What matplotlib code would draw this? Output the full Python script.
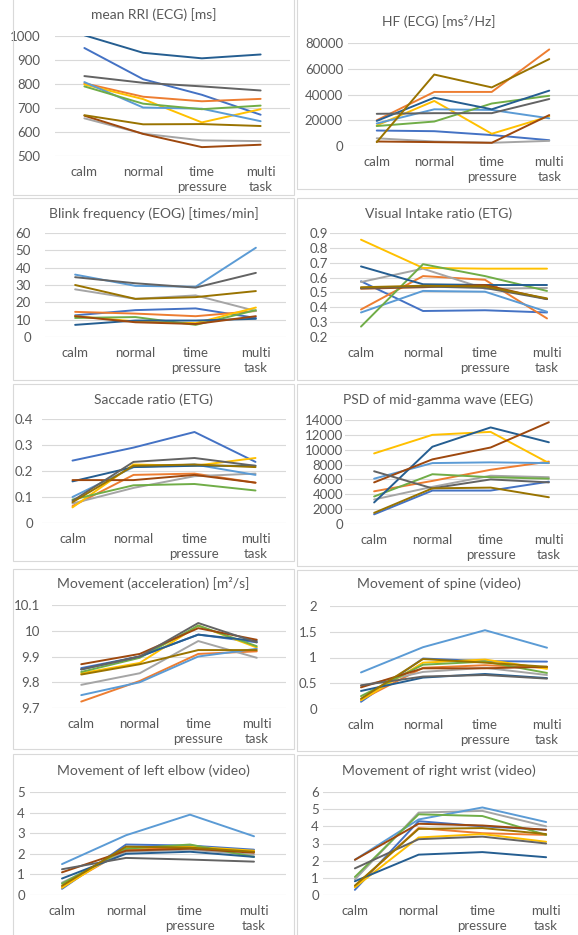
import numpy as np
import matplotlib
matplotlib.use("Agg")
import matplotlib.pyplot as plt
from matplotlib.patches import Rectangle
from matplotlib.ticker import FuncFormatter

plt.rcParams['font.family'] = ['Lato', 'DejaVu Sans']

categories = ["calm", "normal", "time\npressure", "multi\ntask"]

# series colours (Excel palette), same order as the rows of every data block
colors = ["#4472C4", "#ED7D31", "#A5A5A5", "#FFC000", "#5B9BD5",
          "#70AD47", "#255E91", "#9E480E", "#636363", "#997300"]

rri = [[950, 820, 755, 672], [803, 747, 728, 738], [657, 593, 565, 562],
       [798, 737, 640, 695], [808, 702, 697, 645], [790, 718, 695, 710],
       [1003, 930, 907, 923], [668, 592, 537, 547], [833, 805, 790, 773],
       [670, 632, 633, 625]]

hf = [[12000, 11500, 8500, 4500], [20000, 42000, 42000, 75000],
      [6000, 3500, 2500, 4000], [16000, 35000, 9500, 23000],
      [17500, 28500, 28000, 21500], [15500, 19000, 33000, 39000],
      [19500, 37500, 28500, 43000], [3500, 3000, 2500, 24000],
      [25000, 25500, 25500, 36500], [3000, 55500, 45500, 67500]]

blink = [[12.5, 15.5, 16.5, 11], [14.5, 13.5, 12, 15], [27.5, 22, 24, 15],
         [12, 9, 8, 17], [36, 29.5, 29, 51.5], [11, 11.5, 7, 15.5],
         [7, 9.5, 9.5, 10.5], [12, 8.5, 7.5, 12], [34.5, 31, 28.5, 37],
         [30, 22, 23, 26.5]]

visual = [[0.575, 0.375, 0.38, 0.365], [0.385, 0.61, 0.585, 0.325],
          [0.57, 0.66, 0.525, 0.53], [0.855, 0.665, 0.66, 0.66],
          [0.365, 0.51, 0.505, 0.37], [0.27, 0.69, 0.61, 0.51],
          [0.675, 0.555, 0.55, 0.55], [0.525, 0.535, 0.55, 0.455],
          [0.53, 0.54, 0.53, 0.455], [0.535, 0.545, 0.54, 0.46]]

saccade = [[0.24, 0.29, 0.35, 0.235], [0.065, 0.185, 0.19, 0.155],
           [0.075, 0.135, 0.18, 0.19], [0.06, 0.225, 0.22, 0.25],
           [0.10, 0.215, 0.225, 0.185], [0.09, 0.145, 0.15, 0.125],
           [0.16, 0.215, 0.22, 0.22], [0.165, 0.165, 0.185, 0.155],
           [0.085, 0.235, 0.25, 0.22], [0.08, 0.22, 0.225, 0.215]]

psd = [[1300, 4500, 4500, 5700], [4400, 5800, 7300, 8400],
       [3300, 5000, 6500, 6300], [9500, 12000, 12400, 8200],
       [6100, 8200, 8300, 8200], [3700, 6700, 6300, 6100],
       [2900, 10400, 13000, 11000], [5600, 8700, 10300, 13700],
       [7100, 4800, 6000, 5600], [1500, 4800, 4900, 3600]]

accel = [[9.855, 9.90, 9.985, 9.955], [9.725, 9.805, 9.91, 9.92],
         [9.79, 9.835, 9.96, 9.895], [9.835, 9.875, 10.02, 9.935],
         [9.75, 9.80, 9.90, 9.93], [9.84, 9.895, 10.02, 9.94],
         [9.85, 9.90, 9.985, 9.96], [9.87, 9.91, 10.01, 9.965],
         [9.85, 9.90, 10.03, 9.955], [9.83, 9.87, 9.925, 9.925]]

spine = [[0.14, 0.98, 0.93, 0.92], [0.18, 0.80, 0.85, 0.80],
         [0.45, 0.72, 0.80, 0.66], [0.17, 0.90, 0.96, 0.78],
         [0.71, 1.20, 1.53, 1.19], [0.25, 0.86, 0.92, 0.70],
         [0.35, 0.61, 0.68, 0.60], [0.42, 0.79, 0.79, 0.82],
         [0.46, 0.63, 0.66, 0.59], [0.20, 0.97, 0.90, 0.82]]

elbow = [[0.3, 2.45, 2.4, 2.2], [0.4, 2.2, 2.3, 2.1], [0.6, 2.1, 2.2, 1.95],
         [0.35, 2.3, 2.35, 2.15], [1.5, 2.9, 3.9, 2.85], [0.55, 2.25, 2.45, 1.85],
         [0.8, 2.0, 2.1, 1.85], [1.1, 2.15, 2.25, 2.05], [1.25, 1.8, 1.72, 1.62],
         [0.45, 2.35, 2.3, 2.1]]

wrist = [[0.3, 4.3, 4.0, 3.8], [0.5, 3.9, 3.6, 3.5], [0.9, 4.8, 4.9, 4.0],
         [0.45, 3.35, 3.55, 3.1], [2.05, 4.4, 5.1, 4.25], [1.05, 4.7, 4.6, 3.5],
         [0.8, 2.35, 2.5, 2.2], [2.05, 4.15, 4.05, 3.8], [1.55, 3.25, 3.4, 3.0],
         [0.55, 3.85, 3.9, 3.55]]

titles = ["mean RRI (ECG) [ms]", "HF (ECG) [ms²/Hz]",
          "Blink frequency (EOG) [times/min]", "Visual Intake ratio (ETG)",
          "Saccade ratio (ETG)", "PSD of mid-gamma wave (EEG)",
          "Movement (acceleration) [m²/s]", "Movement of spine (video)",
          "Movement of left elbow (video)", "Movement of right wrist (video)"]
datasets = [rri, hf, blink, visual, saccade, psd, accel, spine, elbow, wrist]
yranges = [(500, 1000, 6), (0, 80000, 5), (0, 60, 7), (0.2, 0.9, 8),
           (0, 0.4, 5), (0, 14000, 8), (9.7, 10.1, 5), (0, 2, 5),
           (0, 5, 6), (0, 6, 7)]

# layout in pixels: plot (left, right, top, bottom), ylabel pad, box (l, r, t, b), title y
W, H = 578, 935
plots = [(55, 290, 36, 156), (348, 578, 43, 146), (45, 286, 233, 337),
         (330, 578, 233, 337), (42, 286, 419, 523), (345, 578, 420, 524),
         (52, 286, 605, 708), (330, 578, 606, 709), (30, 286, 792, 895),
         (323, 578, 792, 895)]
ypads = [15, 5, 14, 2, 9, 2, 12, 13, 5, 4]
boxes = [(13, 294, -2, 195), (297, 580, -2, 189), (13, 294, 198, 380),
         (297, 580, 198, 380), (13, 294, 384, 561), (297, 580, 384, 566),
         (13, 294, 569, 749), (297, 580, 570, 751), (13, 294, 754, 937),
         (297, 580, 755, 937)]
title_y = [15, 22, 214, 214, 400, 400, 584, 584, 771, 771]

fig = plt.figure(figsize=(W / 100, H / 100), dpi=100)
txt = "#595959"

for i in range(10):
    bl, br, bt, bb = boxes[i]
    fig.patches.append(Rectangle((bl / W, 1 - bb / H), (br - bl) / W, (bb - bt) / H,
                                 transform=fig.transFigure, fill=False,
                                 ec="#D9D9D9", lw=0.8))
    fig.text((bl + br) / 2 / W, 1 - title_y[i] / H, titles[i], ha="center",
             va="center", fontsize=10, color=txt)

    pl, pr, pt, pb = plots[i]
    ax = fig.add_axes([pl / W, 1 - pb / H, (pr - pl) / W, (pb - pt) / H])
    x = np.arange(len(categories))
    for vals, c in zip(datasets[i], colors):
        ax.plot(x, vals, color=c, lw=1.4, solid_capstyle="round")
    lo, hi, n = yranges[i]
    ticks = np.linspace(lo, hi, n)
    ax.set_ylim(lo, hi)
    ax.set_yticks(ticks)
    ax.yaxis.set_major_formatter(FuncFormatter(lambda v, _: f"{round(v, 3):g}"))
    ax.set_xlim(-0.5, 3.5)
    ax.set_xticks(x)
    ax.set_xticklabels(categories, linespacing=1.35)
    ax.grid(axis="y", color="#D9D9D9", lw=0.8)
    ax.set_axisbelow(True)
    for s in ax.spines.values():
        s.set_visible(False)
    ax.tick_params(axis="x", length=0, pad=7, labelsize=9.5, labelcolor=txt)
    ax.tick_params(axis="y", length=0, pad=ypads[i] * 0.72, labelsize=9.5,
                   labelcolor=txt)
    ax.patch.set_alpha(0)

fig.savefig("out.png", dpi=100)
